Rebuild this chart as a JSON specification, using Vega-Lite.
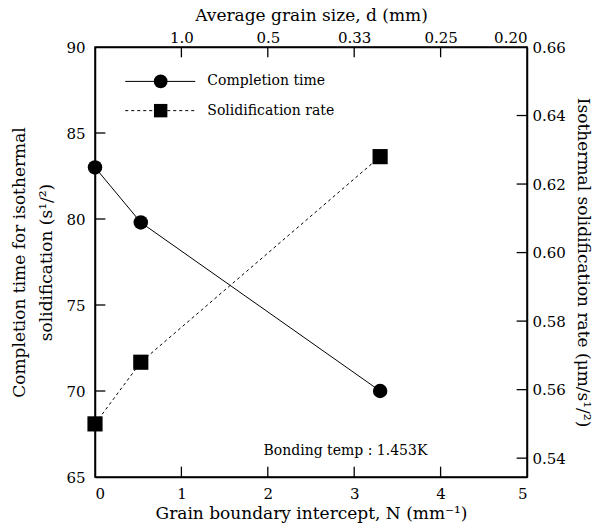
{
  "$schema": "https://vega.github.io/schema/vega-lite/v6.json",
  "width": 432,
  "height": 430,
  "autosize": {"type": "none"},
  "padding": {"left": 95, "top": 47, "right": 66, "bottom": 52},
  "background": "white",
  "config": {
    "font": "DejaVu Serif",
    "view": {"stroke": "black", "strokeWidth": 1.5},
    "axis": {
      "grid": false,
      "ticks": false,
      "tickSize": 0,
      "domainColor": "black",
      "domainWidth": 1.5,
      "labelColor": "black",
      "titleColor": "black",
      "labelFont": "DejaVu Serif",
      "titleFont": "DejaVu Serif",
      "labelFontSize": 15,
      "titleFontSize": 17,
      "titleFontWeight": "normal"
    },
    "text": {"font": "DejaVu Serif", "color": "black"}
  },
  "datasets": {
    "time": [
      {"x": 0, "y": 83.0},
      {"x": 0.53, "y": 79.8},
      {"x": 3.3, "y": 70.0}
    ],
    "rate": [
      {"x": 0, "y": 0.550},
      {"x": 0.53, "y": 0.568},
      {"x": 3.3, "y": 0.628}
    ],
    "ticksLeft": [
      {"y": 70}, {"y": 75}, {"y": 80}, {"y": 85}
    ],
    "ticksBottom": [
      {"x": 1}, {"x": 2}, {"x": 3}, {"x": 4}
    ],
    "ticksRight": [
      {"y": 0.54}, {"y": 0.56}, {"y": 0.58}, {"y": 0.60}, {"y": 0.62}, {"y": 0.64}
    ],
    "ticksTop": [
      {"x": 1}, {"x": 2}, {"x": 3}, {"x": 4}
    ],
    "legTimeLine": [
      {"x": 0.35, "y": 88.0},
      {"x": 1.16, "y": 88.0}
    ],
    "legRateLine": [
      {"x": 0.35, "y": 86.3},
      {"x": 1.16, "y": 86.3}
    ],
    "legTimePt": [{"x": 0.76, "y": 88.0}],
    "legRatePt": [{"x": 0.76, "y": 86.3}],
    "legText": [
      {"x": 1.3, "y": 88.0, "label": "Completion time"},
      {"x": 1.3, "y": 86.3, "label": "Solidification rate"}
    ],
    "note": [{"x": 1.95, "y": 66.5, "label": "Bonding temp : 1.453K"}]
  },
  "layer": [
    {
      "layer": [
        {
          "data": {"name": "time"},
          "mark": {"type": "line", "color": "black", "strokeWidth": 1},
          "encoding": {
            "x": {"field": "x", "type": "quantitative", "scale": {"domain": [0, 5], "nice": false},
                  "axis": {"orient": "bottom", "values": [0, 1, 2, 3, 4, 5], "format": "d", "labelPadding": 9, "title": "Grain boundary intercept, N (mm⁻¹)", "titlePadding": 4}},
            "y": {"field": "y", "type": "quantitative", "scale": {"domain": [65, 90], "nice": false, "zero": false},
                  "axis": {"orient": "left", "values": [65, 70, 75, 80, 85, 90], "format": "d", "labelPadding": 10, "title": ["Completion time for isothermal", "solidification (s¹/²)"], "titleLineHeight": 27, "titlePadding": 10}}
          }
        },
        {
          "data": {"name": "ticksLeft"},
          "mark": {"type": "rule", "color": "black", "strokeWidth": 1.3},
          "encoding": {
            "y": {"field": "y", "type": "quantitative"},
            "x": {"datum": 0, "type": "quantitative"},
            "x2": {"datum": 0.12}
          }
        },
        {
          "data": {"name": "ticksBottom"},
          "mark": {"type": "rule", "color": "black", "strokeWidth": 1.3},
          "encoding": {
            "x": {"field": "x", "type": "quantitative"},
            "y": {"datum": 65, "type": "quantitative"},
            "y2": {"datum": 65.6}
          }
        },
        {
          "data": {"name": "time"},
          "mark": {"type": "point", "shape": "circle", "filled": true, "color": "black", "opacity": 1, "size": 210},
          "encoding": {
            "x": {"field": "x", "type": "quantitative"},
            "y": {"field": "y", "type": "quantitative"}
          }
        },
        {
          "data": {"name": "legTimeLine"},
          "mark": {"type": "line", "color": "black", "strokeWidth": 1},
          "encoding": {
            "x": {"field": "x", "type": "quantitative"},
            "y": {"field": "y", "type": "quantitative"}
          }
        },
        {
          "data": {"name": "legRateLine"},
          "mark": {"type": "line", "color": "black", "strokeWidth": 1, "strokeDash": [3, 3]},
          "encoding": {
            "x": {"field": "x", "type": "quantitative"},
            "y": {"field": "y", "type": "quantitative"}
          }
        },
        {
          "data": {"name": "legTimePt"},
          "mark": {"type": "point", "shape": "circle", "filled": true, "color": "black", "opacity": 1, "size": 190},
          "encoding": {
            "x": {"field": "x", "type": "quantitative"},
            "y": {"field": "y", "type": "quantitative"}
          }
        },
        {
          "data": {"name": "legRatePt"},
          "mark": {"type": "point", "shape": "square", "filled": true, "color": "black", "opacity": 1, "size": 180},
          "encoding": {
            "x": {"field": "x", "type": "quantitative"},
            "y": {"field": "y", "type": "quantitative"}
          }
        },
        {
          "data": {"name": "legText"},
          "mark": {"type": "text", "align": "left", "baseline": "middle", "fontSize": 14},
          "encoding": {
            "x": {"field": "x", "type": "quantitative"},
            "y": {"field": "y", "type": "quantitative"},
            "text": {"field": "label"}
          }
        },
        {
          "data": {"name": "note"},
          "mark": {"type": "text", "align": "left", "baseline": "middle", "fontSize": 14},
          "encoding": {
            "x": {"field": "x", "type": "quantitative"},
            "y": {"field": "y", "type": "quantitative"},
            "text": {"field": "label"}
          }
        }
      ]
    },
    {
      "layer": [
        {
          "data": {"name": "rate"},
          "mark": {"type": "line", "color": "black", "strokeWidth": 1, "strokeDash": [3, 3]},
          "encoding": {
            "x": {"field": "x", "type": "quantitative", "scale": {"domain": [0, 5], "nice": false},
                  "axis": {"orient": "top", "values": [1, 2, 3, 4, 5], "labelPadding": 2, "labelExpr": "datum.value == 1 ? '1.0' : datum.value == 2 ? '0.5' : datum.value == 3 ? '0.33' : datum.value == 4 ? '0.25' : '0.20'", "title": "Average grain size, d (mm)", "titlePadding": 6}},
            "y": {"field": "y", "type": "quantitative", "scale": {"domain": [0.5345, 0.66], "nice": false, "zero": false},
                  "axis": {"orient": "right", "values": [0.54, 0.56, 0.58, 0.60, 0.62, 0.64, 0.66], "format": ".2f", "labelPadding": 5, "title": "Isothermal solidification rate (μm/s¹/²)", "titlePadding": 8}}
          }
        },
        {
          "data": {"name": "ticksRight"},
          "mark": {"type": "rule", "color": "black", "strokeWidth": 1.3},
          "encoding": {
            "y": {"field": "y", "type": "quantitative"},
            "x": {"datum": 4.88, "type": "quantitative"},
            "x2": {"datum": 5}
          }
        },
        {
          "data": {"name": "ticksTop"},
          "mark": {"type": "rule", "color": "black", "strokeWidth": 1.3},
          "encoding": {
            "x": {"field": "x", "type": "quantitative"},
            "y": {"datum": 0.66, "type": "quantitative"},
            "y2": {"datum": 0.657}
          }
        },
        {
          "data": {"name": "rate"},
          "mark": {"type": "point", "shape": "square", "filled": true, "color": "black", "opacity": 1, "size": 230},
          "encoding": {
            "x": {"field": "x", "type": "quantitative"},
            "y": {"field": "y", "type": "quantitative"}
          }
        }
      ]
    }
  ],
  "resolve": {"scale": {"y": "independent"}, "axis": {"x": "independent", "y": "independent"}}
}
